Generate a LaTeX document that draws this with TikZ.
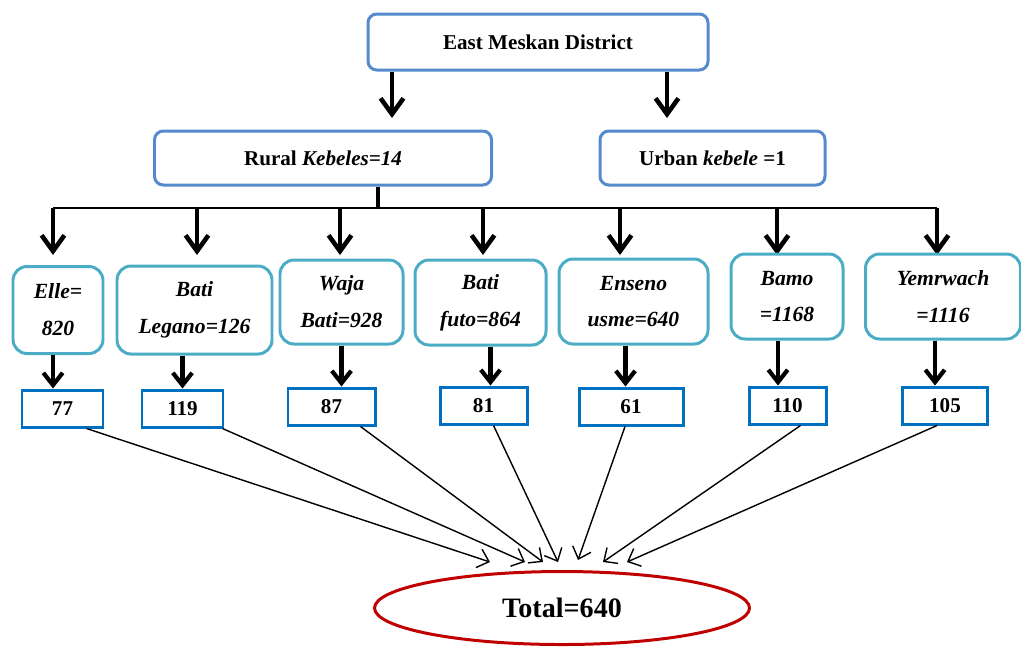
\documentclass[tikz,border=0pt]{standalone}
\usepackage{fontspec}
\setmainfont{Liberation Serif}
\usetikzlibrary{shapes.geometric, arrows.meta, positioning, calc}

\definecolor{topblue}{RGB}{86,138,206}
\definecolor{kebcyan}{RGB}{75,172,198}
\definecolor{numblue}{RGB}{0,112,192}
\definecolor{totred}{RGB}{192,0,0}

\begin{document}
\begin{tikzpicture}[
          topbox/.style={rectangle, draw=topblue, fill=white, line width=1.7pt, rounded corners=5pt, align=center, font=\fontsize{12}{14}\selectfont\bfseries},
          kebnode/.style={rectangle, draw=kebcyan, fill=white, line width=1.7pt, rounded corners=8pt, align=center, font=\fontsize{12.3}{14}\selectfont\bfseries\itshape},
          numnode/.style={rectangle, draw=numblue, fill=white, line width=1.7pt, minimum height=0.74cm, font=\fontsize{12}{14}\selectfont\bfseries},
          bigarrow/.style={-{Straight Barb[length=9pt, width=13pt]}, line width=2.6pt},
          midarrow/.style={-{Straight Barb[length=7pt, width=11pt]}, line width=2.4pt},
          thinarrow/.style={-{Straight Barb[length=6pt, width=11pt]}, line width=0.8pt}
        ]
        \useasboundingbox (0, 0) rectangle (20.42, -12.92);

        % ----------------------------------------------------
        % DISTRICT AND KEBELE TYPES
        % ----------------------------------------------------
        \node (dist) at (10.76, -0.84) [topbox, minimum width=6.8cm, minimum height=1.12cm] {East Meskan District};
        \node (rural) at (6.46, -3.16) [topbox, minimum width=6.74cm, minimum height=1.08cm] {Rural \textit{Kebeles=14}};
        \node (urban) at (14.25, -3.16) [topbox, minimum width=4.5cm, minimum height=1.08cm] {Urban \textit{kebele} =1};

        \coordinate (tipR) at (7.84, -2.36);
        \coordinate (tipU) at (13.34, -2.36);
        \draw[bigarrow] (dist.south -| tipR) -- (tipR);
        \draw[bigarrow] (dist.south -| tipU) -- (tipU);

        % ----------------------------------------------------
        % BRANCHING BAR
        % ----------------------------------------------------
        \coordinate (bar) at (7.56, -4.16);
        \coordinate (d1) at (1.06, -4.16);
        \coordinate (d2) at (3.94, -4.16);
        \coordinate (d3) at (6.80, -4.16);
        \coordinate (d4) at (9.66, -4.16);
        \coordinate (d5) at (12.40, -4.16);
        \coordinate (d6) at (15.54, -4.16);
        \coordinate (d7) at (18.74, -4.16);
        \draw[line width=2.6pt] (rural.south -| bar) -- (bar);
        \draw[line width=1.5pt] (d1) -- (d7);
        \draw[bigarrow] (d1) -- ++(0, -0.94);
        \draw[bigarrow] (d2) -- ++(0, -0.94);
        \draw[bigarrow] (d3) -- ++(0, -0.94);
        \draw[bigarrow] (d4) -- ++(0, -0.94);
        \draw[bigarrow] (d5) -- ++(0, -0.94);
        \draw[bigarrow] (d6) -- ++(0, -0.94);
        \draw[bigarrow] (d7) -- ++(0, -0.94);

        % ----------------------------------------------------
        % KEBELES
        % ----------------------------------------------------
        \node (elle) at (1.16, -6.20) [kebnode, minimum width=1.8cm, minimum height=1.74cm] {Elle=\\[7pt]820};
        \node (legano) at (3.89, -6.20) [kebnode, minimum width=3.1cm, minimum height=1.76cm] {Bati\\[7pt]Legano=126};
        \node (waja) at (6.83, -6.04) [kebnode, minimum width=2.46cm, minimum height=1.68cm] {Waja\\[7pt]Bati=928};
        \node (futo) at (9.61, -6.05) [kebnode, minimum width=2.62cm, minimum height=1.7cm] {Bati\\[7pt]futo=864};
        \node (enseno) at (12.67, -6.03) [kebnode, minimum width=2.98cm, minimum height=1.7cm] {Enseno\\[7pt]usme=640};
        \node (bamo) at (15.74, -5.93) [kebnode, minimum width=2.24cm, minimum height=1.7cm] {Bamo\\[7pt]=1168};
        \node (yemr) at (18.86, -5.93) [kebnode, minimum width=3.1cm, minimum height=1.7cm] {Yemrwach\\[7pt]=1116};

        % ----------------------------------------------------
        % SAMPLE SIZES
        % ----------------------------------------------------
        \node (n77) at (1.25, -8.17) [numnode, minimum width=1.62cm] {77};
        \node (n119) at (3.65, -8.17) [numnode, minimum width=1.62cm] {119};
        \node (n87) at (6.63, -8.13) [numnode, minimum width=1.74cm] {87};
        \node (n81) at (9.67, -8.11) [numnode, minimum width=1.74cm] {81};
        \node (n61) at (12.62, -8.13) [numnode, minimum width=2.08cm] {61};
        \node (n110) at (15.75, -8.11) [numnode, minimum width=1.54cm] {110};
        \node (n105) at (18.90, -8.11) [numnode, minimum width=1.7cm] {105};

        \draw[midarrow] ([xshift=-0.1cm]elle.south) -- ([xshift=-0.1cm]elle.south |- n77.north);
        \draw[midarrow] ([xshift=-0.24cm]legano.south) -- ([xshift=-0.24cm]legano.south |- n119.north);
        \draw[midarrow] (waja.south) -- (waja.south |- n87.north);
        \draw[midarrow] ([xshift=0.2cm]futo.south) -- ([xshift=0.2cm]futo.south |- n81.north);
        \draw[midarrow] ([xshift=-0.16cm]enseno.south) -- ([xshift=-0.16cm]enseno.south |- n61.north);
        \draw[midarrow] ([xshift=-0.18cm]bamo.south) -- ([xshift=-0.18cm]bamo.south |- n110.north);
        \draw[midarrow] ([xshift=-0.16cm]yemr.south) -- ([xshift=-0.16cm]yemr.south |- n105.north);

        % ----------------------------------------------------
        % TOTAL
        % ----------------------------------------------------
        \node (total) at (11.24, -12.16) [ellipse, draw=totred, line width=1.7pt, inner sep=0pt, minimum width=7.5cm, minimum height=1.46cm, font=\fontsize{16}{19}\selectfont\bfseries] {Total=640};

        \coordinate (t1) at (9.80, -11.24);
        \coordinate (t2) at (10.50, -11.24);
        \coordinate (t3) at (10.86, -11.24);
        \coordinate (t4) at (11.16, -11.24);
        \coordinate (t5) at (11.56, -11.20);
        \coordinate (t6) at (12.06, -11.24);
        \coordinate (t7) at (12.54, -11.24);
        \draw[thinarrow] ([xshift=0.48cm]n77.south) -- (t1);
        \draw[thinarrow] ([xshift=0.8cm]n119.south) -- (t2);
        \draw[thinarrow] ([xshift=0.58cm]n87.south) -- (t3);
        \draw[thinarrow] ([xshift=0.2cm]n81.south) -- (t4);
        \draw[thinarrow] ([xshift=-0.12cm]n61.south) -- (t5);
        \draw[thinarrow] ([xshift=0.26cm]n110.south) -- (t6);
        \draw[thinarrow] ([xshift=-0.16cm]n105.south) -- (t7);
      \end{tikzpicture}
\end{document}
